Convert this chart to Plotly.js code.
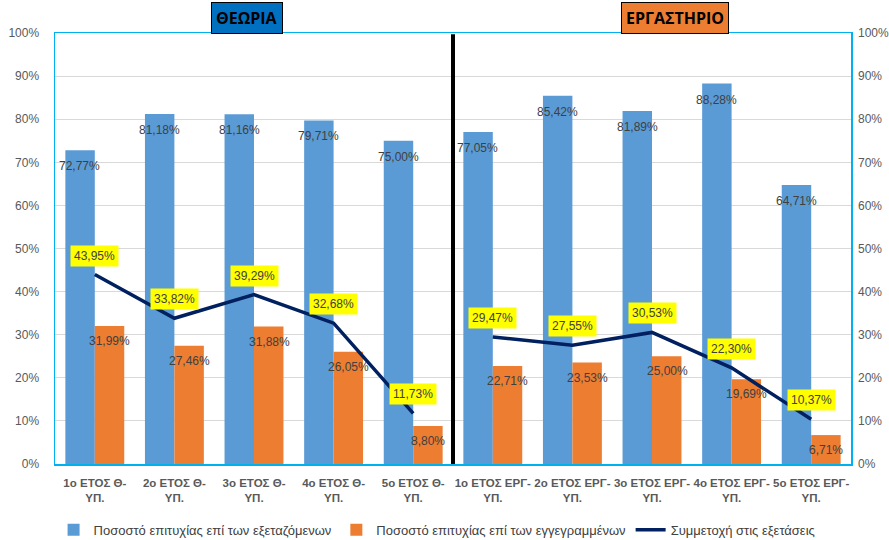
<!DOCTYPE html>
<html>
<head>
<meta charset="utf-8">
<script src="https://cdn.plot.ly/plotly-3.0.1.min.js"></script>
<style>html,body{margin:0;padding:0;background:#fff;}#chart{width:889px;height:540px;}</style>
</head>
<body>
<div id="chart"></div>
<script>
var categories = ["1ο ΕΤΟΣ Θ-ΥΠ.", "2ο ΕΤΟΣ Θ-ΥΠ.", "3ο ΕΤΟΣ Θ-ΥΠ.", "4ο ΕΤΟΣ Θ-ΥΠ.", "5ο ΕΤΟΣ Θ-ΥΠ.",
                  "1ο ΕΤΟΣ ΕΡΓ-ΥΠ.", "2ο ΕΤΟΣ ΕΡΓ-ΥΠ.", "3ο ΕΤΟΣ ΕΡΓ-ΥΠ.", "4ο ΕΤΟΣ ΕΡΓ-ΥΠ.", "5ο ΕΤΟΣ ΕΡΓ-ΥΠ."];
var tickLabels = ["1ο ΕΤΟΣ Θ-<br>ΥΠ.", "2ο ΕΤΟΣ Θ-<br>ΥΠ.", "3ο ΕΤΟΣ Θ-<br>ΥΠ.", "4ο ΕΤΟΣ Θ-<br>ΥΠ.", "5ο ΕΤΟΣ Θ-<br>ΥΠ.",
                  "1ο ΕΤΟΣ ΕΡΓ-<br>ΥΠ.", "2ο ΕΤΟΣ ΕΡΓ-<br>ΥΠ.", "3ο ΕΤΟΣ ΕΡΓ-<br>ΥΠ.", "4ο ΕΤΟΣ ΕΡΓ-<br>ΥΠ.", "5ο ΕΤΟΣ ΕΡΓ-<br>ΥΠ."];
var successExamined = [72.77, 81.18, 81.16, 79.71, 75.00, 77.05, 85.42, 81.89, 88.28, 64.71];
var successRegistered = [31.99, 27.46, 31.88, 26.05, 8.80, 22.71, 23.53, 25.00, 19.69, 6.71];
var participation = [43.95, 33.82, 39.29, 32.68, 11.73, 29.47, 27.55, 30.53, 22.30, 10.37];
var seriesNames = ["Ποσοστό επιτυχίας επί των εξεταζόμενων", "Ποσοστό επιτυχίας επί των εγγεγραμμένων", "Συμμετοχή στις εξετάσεις"];
var sectionTitles = ["ΘΕΩΡΙΑ", "ΕΡΓΑΣΤΗΡΙΟ"];

function fmt(v) { return v.toFixed(2).replace('.', ',') + '%'; }

var FONT = "Liberation Sans, Arial, sans-serif";
var blue = "#5B9BD5", orange = "#ED7D31", navy = "#002060";

var traces = [
  { type: 'bar', name: seriesNames[0], x: categories, y: successExamined.map(function(v){return v/100;}),
    marker: { color: blue }, hoverinfo: 'skip' },
  { type: 'bar', name: seriesNames[1], x: categories, y: successRegistered.map(function(v){return v/100;}),
    marker: { color: orange }, hoverinfo: 'skip' },
  { type: 'scatter', mode: 'lines', name: seriesNames[2], legendgroup: 'p',
    x: categories.slice(0, 5), y: participation.slice(0, 5).map(function(v){return v/100;}),
    line: { color: navy, width: 3.5 } },
  { type: 'scatter', mode: 'lines', name: seriesNames[2], legendgroup: 'p', showlegend: false,
    x: categories.slice(5), y: participation.slice(5).map(function(v){return v/100;}),
    line: { color: navy, width: 3.5 } },
  { type: 'scatter', mode: 'none', x: categories, y: successExamined.map(function(v){return v/100;}),
    yaxis: 'y2', showlegend: false, hoverinfo: 'skip' }
];

var annotations = [];
categories.forEach(function(c, i) {
  annotations.push({ x: c, y: successExamined[i]/100, xshift: -15, yshift: -16, text: fmt(successExamined[i]),
    showarrow: false, font: { family: FONT, size: 12, color: '#404040' } });
  annotations.push({ x: c, y: successRegistered[i]/100, xshift: 15, yshift: -15, text: fmt(successRegistered[i]),
    showarrow: false, font: { family: FONT, size: 12, color: '#404040' } });
  annotations.push({ x: c, y: participation[i]/100, yshift: 19, text: fmt(participation[i]),
    showarrow: false, bgcolor: '#FFFF00', borderpad: 3,
    font: { family: FONT, size: 12, color: '#404040' } });
});
var titleY = 1 + 15/431;
annotations.push({ xref: 'paper', yref: 'paper', x: (247-55)/796, y: titleY, xanchor: 'center', yanchor: 'middle',
  text: '<b>' + sectionTitles[0] + '</b>', showarrow: false, bgcolor: '#0070C0', bordercolor: '#000', borderwidth: 1,
  borderpad: 4, font: { family: "Open Sans, sans-serif", size: 16, color: '#000' } });
annotations.push({ xref: 'paper', yref: 'paper', x: (675-55)/796, y: titleY, xanchor: 'center', yanchor: 'middle',
  text: '<b>' + sectionTitles[1] + '</b>', showarrow: false, bgcolor: '#ED7D31', bordercolor: '#000', borderwidth: 1,
  borderpad: 4, font: { family: "Open Sans, sans-serif", size: 16, color: '#000' } });

var layout = {
  width: 889, height: 540,
  margin: { l: 55, r: 38, t: 33, b: 76, autoexpand: false },
  paper_bgcolor: '#fff', plot_bgcolor: '#fff',
  barmode: 'group', bargap: 0.26, bargroupgap: 0,
  font: { family: FONT, color: '#595959' },
  xaxis: { type: 'category', categoryorder: 'array', categoryarray: categories, automargin: false,
    tickvals: categories, ticktext: tickLabels.map(function(t){return '<b>' + t + '</b>';}), tickangle: 0,
    tickfont: { family: FONT, size: 11.5, color: '#595959' },
    showgrid: false, zeroline: false, showline: true, linecolor: '#00B0F0', linewidth: 1.5, mirror: true, ticks: '',
    ticklabelstandoff: 8, fixedrange: true },
  yaxis: { range: [0, 1], dtick: 0.1, tickformat: '.0%', showgrid: true, gridcolor: '#D9D9D9', gridwidth: 1, automargin: false,
    zeroline: false, showline: true, linecolor: '#00B0F0', linewidth: 1.5, mirror: true, ticks: '',
    ticklabelstandoff: 12, tickfont: { family: FONT, size: 12, color: '#595959' } },
  yaxis2: { range: [0, 1], dtick: 0.1, tickformat: '.0%', overlaying: 'y', side: 'right', showgrid: false, automargin: false,
    zeroline: false, showline: false, ticks: '', ticklabelstandoff: 6,
    tickfont: { family: FONT, size: 12, color: '#595959' } },
  legend: { orientation: 'h', x: 0.48, xanchor: 'center', y: -0.118, yanchor: 'top',
    font: { family: FONT, size: 13, color: '#404040' }, traceorder: 'normal', itemwidth: 30 },
  shapes: [{ type: 'line', xref: 'x', yref: 'paper', x0: 4.5, x1: 4.5, y0: 0, y1: 0.997,
    line: { color: '#000', width: 4 } }],
  annotations: annotations,
  showlegend: true
};

Plotly.newPlot('chart', traces, layout, { displayModeBar: false, staticPlot: true });
</script>
</body>
</html>
